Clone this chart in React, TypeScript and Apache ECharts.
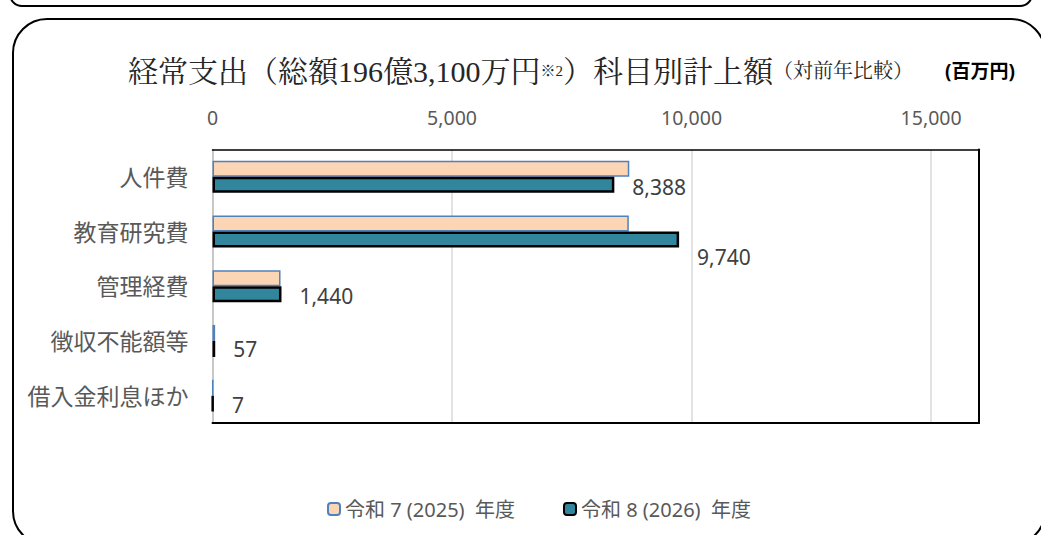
import React, { useEffect, useRef } from "react";
import * as echarts from "echarts";

const categories = ["人件費", "教育研究費", "管理経費", "徴収不能額等", "借入金利息ほか"];
const seriesNames = ["令和 7 (2025)  年度", "令和 8 (2026)  年度"];
const values2025 = [8700, 8690, 1420, 55, 9];
const values2026 = [8388, 9740, 1440, 57, 7];
const axisMin = 0;
const axisMax = 16000;
const axisInterval = 5000;
const titleMain = "経常支出（総額196億3,100万円";
const titleNote = "※2";
const titleRest = "）科目別計上額";
const titleSub = "（対前年比較）";
const unitText = "(百万円)";

const SANS = '"Noto Sans", "Noto Sans CJK JP", sans-serif';
const SERIF = '"Liberation Serif", "Noto Serif CJK JP", "Noto Sans CJK JP", serif';

export default function App() {
  const ref = useRef<HTMLDivElement>(null);
  useEffect(() => {
    if (!ref.current) return;
    const chart = echarts.init(ref.current, null, { renderer: "svg" });
    const labelOffsets = [[0, 2], [0, 17], [0, 2], [0, 0], [0, 1]];
    const fmt = (v: number) => v.toLocaleString("en-US");
    const option: any = {
      animation: false,
      backgroundColor: "#ffffff",
      graphic: [
        {
          type: "rect",
          z: -10,
          shape: { x: 10, y: -40, width: 1022, height: 46, r: 12 },
          style: { fill: "none", stroke: "#000", lineWidth: 2 },
        },
        {
          type: "rect",
          z: -10,
          shape: { x: 13, y: 19, width: 1032, height: 526, r: 34 },
          style: { fill: "none", stroke: "#000", lineWidth: 2 },
        },
        {
          type: "text",
          x: 128,
          y: 71,
          style: {
            text:
              "{a|" + titleMain + "}{b|" + titleNote + "}{a|" + titleRest + "}{c|" + titleSub + "}",
            verticalAlign: "middle",
            rich: {
              a: { fontFamily: SERIF, fontSize: 30, fill: "#262626" },
              b: { fontFamily: SERIF, fontSize: 15, fill: "#262626" },
              c: { fontFamily: SERIF, fontSize: 20, fill: "#262626" },
            },
          },
        },
        {
          type: "text",
          x: 945,
          y: 71,
          style: {
            text: unitText,
            verticalAlign: "middle",
            fontFamily: SANS,
            fontWeight: "bold",
            fontSize: 19,
            fill: "#000",
          },
        },
      ],
      grid: { left: 212.5, top: 149.5, right: 62, bottom: 112, containLabel: false },
      legend: {
        data: seriesNames,
        top: 494,
        left: 322,
        itemWidth: 12,
        itemHeight: 12,
        itemGap: 48,
        textStyle: { fontFamily: SANS, fontSize: 20, color: "#595959" },
      },
      xAxis: [
        {
          type: "value",
          position: "top",
          min: axisMin,
          max: axisMax,
          interval: axisInterval,
          axisLine: { show: true, lineStyle: { color: "#000", width: 1.5 } },
          axisTick: { show: false },
          axisLabel: {
            showMaxLabel: false,
            margin: 22,
            fontFamily: SANS,
            fontSize: 19.5,
            color: "#595959",
            formatter: (v: number) => fmt(v),
          },
          splitLine: { show: true, lineStyle: { color: "#D9D9D9", width: 1.5 } },
        },
        {
          type: "value",
          position: "bottom",
          min: axisMin,
          max: axisMax,
          interval: axisInterval,
          axisLine: { show: true, onZero: false, lineStyle: { color: "#000", width: 2 } },
          axisTick: { show: false },
          axisLabel: { show: false },
          splitLine: { show: false },
        },
      ],
      yAxis: [
        {
          type: "category",
          data: categories,
          inverse: true,
          axisLine: { show: true, lineStyle: { color: "#BFBFBF", width: 1.5 } },
          axisTick: { show: false },
          axisLabel: { margin: 24, fontFamily: SANS, fontSize: 23, color: "#595959" },
        },
        {
          type: "category",
          data: categories,
          inverse: true,
          position: "right",
          axisLine: { show: true, onZero: false, lineStyle: { color: "#000", width: 2 } },
          axisTick: { show: false },
          axisLabel: { show: false },
        },
      ],
      series: [
        {
          name: seriesNames[0],
          type: "bar",
          barWidth: 16,
          barGap: "0%",
          data: values2025,
          itemStyle: { color: "#FCD5B5", borderColor: "#4F81BD", borderWidth: 1.5 },
        },
        {
          name: seriesNames[1],
          type: "bar",
          barWidth: 16,
          barGap: "0%",
          data: values2026.map((v, i) => ({
            value: v,
            label: { offset: labelOffsets[i] },
          })),
          itemStyle: { color: "#31859C", borderColor: "#000", borderWidth: 2.5 },
          label: {
            show: true,
            position: "right",
            distance: 18,
            fontFamily: SANS,
            fontSize: 21,
            color: "#404040",
            formatter: (p: any) => fmt(p.value),
          },
        },
      ],
    };
    chart.setOption(option);
    return () => chart.dispose();
  }, []);
  return (
    <div
      ref={ref}
      style={{ position: "fixed", left: 0, top: 0, width: 1041, height: 535 }}
    />
  );
}
